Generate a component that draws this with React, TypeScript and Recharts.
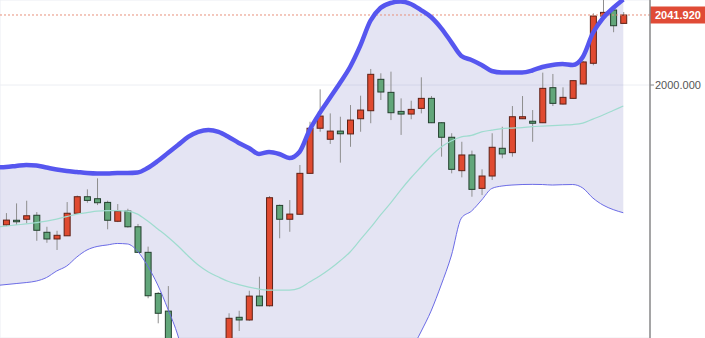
import { ComposedChart, Area, Bar, Line, XAxis, YAxis, CartesianGrid, ReferenceLine } from 'recharts';

// daily candles, day 0 .. 61
const opens = [
  1916.2, 1919.0, 1919.6, 1922.0, 1911.8, 1907.8, 1909.7, 1923.2, 1933.1, 1931.9,
  1929.7, 1918.4, 1924.5, 1915.1, 1899.8, 1875.2, 1864.6, 1842.0, 1828.0, 1815.0,
  1822.0, 1812.0, 1836.0, 1860.9, 1859.3, 1873.6, 1867.8, 1927.9, 1919.6, 1922.6,
  1947.1, 1974.1, 1967.5, 1972.4, 1970.7, 1979.8, 1984.6, 2003.4, 1995.6, 1984.2,
  1982.6, 1986.0, 1992.0, 1977.4, 1968.7, 1948.7, 1958.1, 1938.1, 1945.5, 1962.1,
  1959.5, 1979.8, 1978.3, 1977.4, 1998.4, 1988.6, 1992.0, 2000.6, 2013.0, 2041.3,
  2044.9, 2036.9,
];
const highs = [
  1923.3, 1929.1, 1930.7, 1923.9, 1915.1, 1912.7, 1929.9, 1933.8, 1937.5, 1944.1,
  1930.7, 1928.7, 1925.9, 1916.8, 1903.2, 1876.0, 1879.6, 1845.0, 1832.0, 1826.0,
  1826.0, 1836.0, 1863.3, 1864.8, 1876.8, 1885.2, 1933.5, 1928.4, 1931.1, 1952.1,
  1978.0, 1997.4, 1983.0, 1981.0, 1988.0, 1993.6, 2009.6, 2007.0, 2008.0, 1992.0,
  1990.6, 2004.6, 1993.4, 1977.8, 1971.1, 1966.0, 1960.7, 1949.5, 1971.1, 1975.0,
  1987.4, 1993.4, 1985.0, 2007.4, 2006.6, 1998.6, 2003.0, 2014.4, 2042.9, 2054.0,
  2045.9, 2043.7,
];
const lows = [
  1915.5, 1916.2, 1917.2, 1906.7, 1905.5, 1901.2, 1909.6, 1923.0, 1929.5, 1928.1,
  1913.6, 1917.9, 1914.6, 1899.4, 1872.3, 1857.3, 1835.3, 1825.0, 1812.0, 1810.0,
  1808.0, 1808.0, 1833.0, 1852.7, 1858.7, 1867.6, 1867.3, 1908.2, 1912.1, 1922.4,
  1946.7, 1972.0, 1964.7, 1953.5, 1963.0, 1972.0, 1977.1, 1991.0, 1979.0, 1970.1,
  1979.5, 1983.0, 1977.2, 1957.1, 1947.1, 1944.7, 1933.1, 1934.1, 1943.1, 1956.1,
  1957.1, 1979.6, 1966.0, 1977.2, 1987.4, 1988.3, 1991.6, 2000.3, 2011.8, 2041.0,
  2031.6, 2036.8,
];
const closes = [
  1919.1, 1918.5, 1921.7, 1913.0, 1907.8, 1910.0, 1923.2, 1933.1, 1930.9, 1929.5,
  1919.0, 1924.5, 1915.1, 1899.8, 1873.8, 1863.3, 1841.3, 1828.0, 1815.0, 1822.0,
  1812.0, 1834.0, 1860.3, 1859.3, 1873.6, 1867.8, 1932.5, 1919.6, 1922.7, 1947.1,
  1974.1, 1981.4, 1972.4, 1970.8, 1979.0, 1985.0, 2006.4, 1995.8, 1983.4, 1982.6,
  1985.4, 1992.0, 1977.4, 1968.7, 1949.5, 1958.1, 1937.5, 1945.5, 1962.7, 1958.7,
  1981.0, 1981.0, 1977.1, 1998.0, 1989.0, 1992.6, 2002.6, 2013.8, 2041.3, 2043.5,
  2035.5, 2041.92,
];

// bollinger bands start one day earlier (day -1) so they reach the left edge
const upperBand = [
  1950.6,
  1950.9, 1951.5, 1952.1, 1951.8, 1950.6, 1949.4, 1948.5, 1947.9, 1947.3, 1947.0,
  1947.0, 1947.3, 1947.3, 1947.6, 1950.3, 1954.5, 1959.3, 1964.1, 1968.9, 1971.9,
  1973.0, 1971.9, 1968.9, 1965.3, 1962.3, 1958.7, 1959.9, 1958.7, 1956.3, 1959.9,
  1973.0, 1983.2, 1992.2, 2001.2, 2010.8, 2023.4, 2038.3, 2046.1, 2049.1, 2050.0,
  2048.5, 2044.9, 2040.7, 2034.1, 2025.7, 2017.4, 2015.0, 2012.0, 2008.4, 2007.5,
  2007.5, 2007.5, 2008.7, 2010.8, 2012.0, 2012.6, 2012.0, 2016.8, 2031.1, 2040.1,
  2046.1, 2051.2,
];
const midBand = [
  1914.9,
  1915.5, 1916.2, 1916.8, 1917.6, 1918.5, 1919.7, 1921.2, 1922.7, 1923.6, 1924.5,
  1924.8, 1924.8, 1924.5, 1922.7, 1918.5, 1913.8, 1909.0, 1903.6, 1897.6, 1892.2,
  1888.0, 1885.0, 1882.3, 1880.5, 1879.0, 1877.8, 1877.2, 1877.2, 1877.2, 1878.4,
  1882.0, 1885.6, 1889.8, 1894.6, 1900.0, 1907.2, 1914.4, 1922.1, 1929.3, 1937.1,
  1944.3, 1950.9, 1957.5, 1962.9, 1966.5, 1968.9, 1969.8, 1971.9, 1973.0, 1973.9,
  1974.2, 1974.5, 1975.1, 1975.4, 1975.7, 1976.0, 1976.3, 1977.2, 1979.6, 1982.0,
  1984.7, 1987.4,
];
const lowerBand = [
  1879.9,
  1880.5, 1881.1, 1881.7, 1882.6, 1884.7, 1888.6, 1891.6, 1897.0, 1901.2, 1903.3,
  1904.2, 1905.1, 1904.8, 1900.5, 1891.6, 1880.2, 1865.8, 1849.7, 1826.3, 1812.5,
  1803.0, 1798.2, 1795.8, 1795.8, 1795.8, 1797.0, 1794.6, 1795.8, 1798.2, 1797.0,
  1791.0, 1788.0, 1787.4, 1788.0, 1789.2, 1791.0, 1790.4, 1798.2, 1809.5, 1824.2,
  1840.1, 1852.1, 1864.6, 1880.2, 1897.6, 1920.3, 1924.5, 1931.1, 1938.0, 1939.5,
  1940.1, 1940.4, 1940.5, 1940.4, 1940.1, 1940.3, 1940.4, 1938.3, 1932.3, 1928.1,
  1925.4, 1923.5,
];

const gridDays = [5, 17, 26, 39, 48, 61];
const priceTicks = [2000];
const lastPrice = 2041.92;

const UP = '#e04a30';
const DOWN = '#62a67a';

const data = upperBand.map((u, k) => {
  const i = k - 1;
  const has = i >= 0;
  return {
    day: i,
    upper: u,
    mid: midBand[k],
    lower: lowerBand[k],
    open: has ? opens[i] : null,
    high: has ? highs[i] : null,
    low: has ? lows[i] : null,
    close: has ? closes[i] : null,
  };
});

function Candle(props: any) {
  const { x, y, width, height, payload } = props;
  if (!payload || payload.open == null || height == null) return <g />;
  const { open, close, high, low } = payload;
  const top = Math.min(y, y + height);
  const h = Math.abs(height);
  const ppu = h / (high - low);
  const yAt = (v: number) => top + (high - v) * ppu;
  const up = close >= open;
  const cx = x + width / 2;
  const bodyTop = yAt(Math.max(open, close));
  const bodyH = Math.max(1.5, Math.abs(yAt(open) - yAt(close)));
  return (
    <g>
      <line x1={cx} x2={cx} y1={top} y2={top + h} stroke="#8e8e8e" strokeWidth={1} />
      <rect
        x={x + 0.5}
        y={bodyTop}
        width={width - 1}
        height={bodyH}
        fill={up ? UP : DOWN}
        stroke={up ? '#5e2116' : '#24402e'}
        strokeWidth={1}
      />
    </g>
  );
}

function PriceTag(props: any) {
  const vb = props.viewBox;
  if (!vb) return null;
  const x = vb.x + vb.width;
  const y = vb.y;
  return (
    <g>
      <rect x={x} y={y - 8.5} width={60} height={17} fill="#e04b36" />
      <text x={x + 5} y={y + 4} fill="#ffffff" fontSize={11} fontWeight={600}>
        {lastPrice.toFixed(3)}
      </text>
    </g>
  );
}

export default function App() {
  return (
    <div
      style={{
        position: 'absolute',
        top: 0,
        left: 0,
        width: 705,
        height: 338,
        background: '#ffffff',
        fontFamily: '"Liberation Sans", Arial, sans-serif',
        overflow: 'hidden',
      }}
    >
      <ComposedChart width={705} height={338} data={data} margin={{ top: 0, right: 0, bottom: 0, left: 0 }}>
        <CartesianGrid stroke="#eceef3" />
        <XAxis
          type="number"
          dataKey="day"
          domain={[-0.593, 63.64]}
          allowDataOverflow
          ticks={gridDays}
          height={0}
          tick={false}
          tickLine={false}
          axisLine={false}
        />
        <YAxis
          orientation="right"
          width={55}
          domain={[1848.5, 2050.9]}
          allowDataOverflow
          ticks={priceTicks}
          tickFormatter={(v: number) => v.toFixed(3)}
          tick={{ fill: '#555555', fontSize: 11 }}
          tickSize={4}
          tickMargin={1}
          tickLine={{ stroke: '#8a8a8a' }}
          axisLine={{ stroke: '#8a8a8a', strokeWidth: 1.5 }}
        />
        <Area
          dataKey={(d: any) => [d.lower, d.upper]}
          type="monotone"
          stroke="none"
          fill="#5c5cb8"
          fillOpacity={0.17}
          isAnimationActive={false}
          dot={false}
          activeDot={false}
        />
        <ReferenceLine
          y={lastPrice}
          stroke="#e8907c"
          strokeDasharray="2 2"
          label={<PriceTag />}
        />
        <Bar
          dataKey={(d: any) => (d.open == null ? null : [d.low, d.high])}
          barSize={7}
          shape={<Candle />}
          isAnimationActive={false}
        />
        <Line dataKey="mid" type="monotone" stroke="#9fdccf" strokeWidth={1.2} dot={false} activeDot={false} isAnimationActive={false} />
        <Line dataKey="lower" type="monotone" stroke="#6b6be6" strokeWidth={1} dot={false} activeDot={false} isAnimationActive={false} />
        <Line dataKey="upper" type="monotone" stroke="#5656ef" strokeWidth={4.5} dot={false} activeDot={false} isAnimationActive={false} />
      </ComposedChart>
    </div>
  );
}
